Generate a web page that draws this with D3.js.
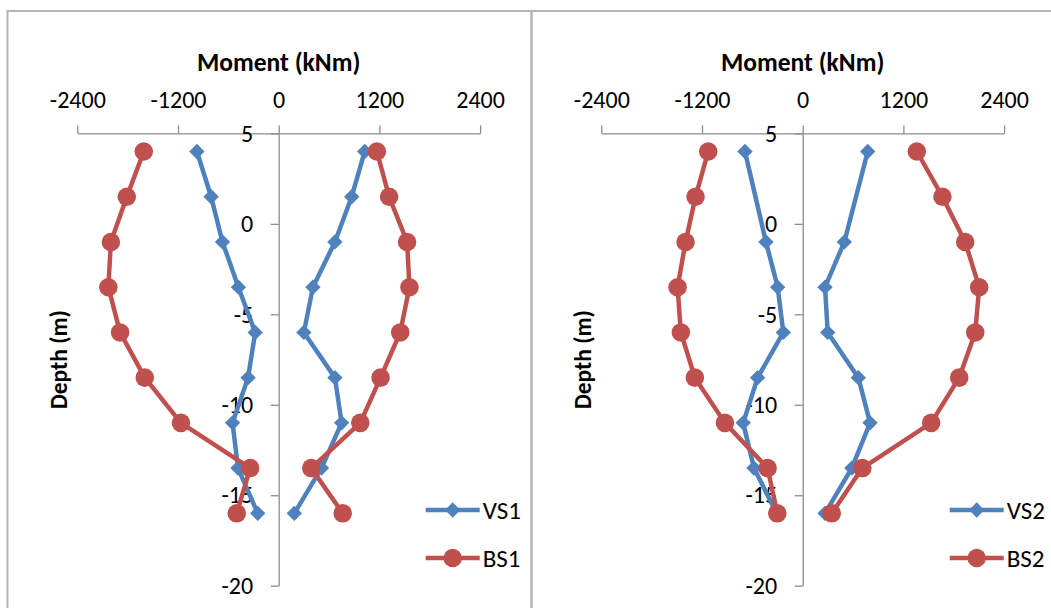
<!DOCTYPE html>
<html>
<head>
<meta charset="utf-8">
<script src="https://cdn.jsdelivr.net/npm/d3@7"></script>
<style>
  body { margin: 0; background: #fff; }
  svg { display: block; font-family: Calibri, Carlito, Lato, sans-serif; }
</style>
</head>
<body>
<div id="chart"></div>
<script>
// depth of each reading (m)
var depths = [4, 1.5, -1, -3.5, -6, -8.5, -11, -13.5, -16];
var depthsVS2 = [4, -1, -3.5, -6, -8.5, -11, -13.5, -16];

// moments (kNm), each series has a negative and a positive branch
var vs1Neg = [-975, -805, -670, -480, -280, -365, -550, -485, -250];
var vs1Pos = [1025, 870, 670, 408, 300, 670, 750, 510, 186];
var bs1Neg = [-1608, -1810, -2000, -2030, -1890, -1596, -1165, -340, -500];
var bs1Pos = [1170, 1316, 1530, 1558, 1448, 1214, 972, 388, 763];

var vs2Neg = [-688, -438, -298, -231, -537, -709, -581, -310];
var vs2Pos = [775, 496, 266, 298, 663, 803, 585, 266];
var bs2Neg = [-1126, -1277, -1396, -1491, -1452, -1285, -927, -418, -303];
var bs2Pos = [1360, 1665, 1936, 2103, 2056, 1865, 1531, 711, 346];

var momentTicks = [-2400, -1200, 0, 1200, 2400];
var depthTicks = [5, 0, -5, -10, -15, -20];

var blue = "#4f81bd", red = "#c0504d";

var panels = [
  { left: 7.5, vs: "VS1", bs: "BS1",
    series: [
      { depth: depths, value: vs1Neg, color: blue, shape: "diamond" },
      { depth: depths, value: vs1Pos, color: blue, shape: "diamond" },
      { depth: depths, value: bs1Neg, color: red, shape: "circle" },
      { depth: depths, value: bs1Pos, color: red, shape: "circle" }
    ] },
  { left: 531.5, vs: "VS2", bs: "BS2",
    series: [
      { depth: depthsVS2, value: vs2Neg, color: blue, shape: "diamond" },
      { depth: depthsVS2, value: vs2Pos, color: blue, shape: "diamond" },
      { depth: depths, value: bs2Neg, color: red, shape: "circle" },
      { depth: depths, value: bs2Pos, color: red, shape: "circle" }
    ] }
];

var svg = d3.select("#chart").append("svg")
  .attr("width", 1051)
  .attr("height", 608);

// chart borders
svg.append("rect")
  .attr("x", 7.5).attr("y", 11)
  .attr("width", 1100).attr("height", 700)
  .attr("fill", "none").attr("stroke", "#b4b4b4").attr("stroke-width", 2);
svg.append("line")
  .attr("x1", 531.5).attr("x2", 531.5).attr("y1", 11).attr("y2", 608)
  .attr("stroke", "#b4b4b4").attr("stroke-width", 2.5);

var diamond = d3.symbol().type(d3.symbolDiamond2).size(150);
var circle = d3.symbol().type(d3.symbolCircle).size(270);

panels.forEach(function (p) {
  var g = svg.append("g").attr("transform", "translate(" + p.left + ",0)");

  var x = d3.scaleLinear().domain([-2400, 2400]).range([69.8, 472.6]);
  var y = d3.scaleLinear().domain([5, -20]).range([133.4, 585.7]);

  // x axis on top
  var xAxis = g.append("g")
    .attr("transform", "translate(0," + y(5) + ")")
    .call(d3.axisTop(x).tickValues(momentTicks).tickSize(8).tickSizeOuter(0)
      .tickPadding(17).tickFormat(function (d) { return String(d); }));

  // y axis at zero moment
  var yAxis = g.append("g")
    .attr("transform", "translate(" + x(0) + ",0)")
    .call(d3.axisLeft(y).tickValues(depthTicks).tickSize(8).tickSizeOuter(0)
      .tickPadding(17.5).tickFormat(function (d) { return String(d); }));

  [xAxis, yAxis].forEach(function (a) {
    a.selectAll("path, line").attr("stroke", "#8c8c8c").attr("stroke-width", 1.3);
    a.selectAll("text").attr("fill", "#000").attr("font-size", 24)
      .attr("font-family", "Calibri, Carlito, Lato, sans-serif");
  });

  g.append("text")
    .attr("x", x(0)).attr("y", 71)
    .attr("text-anchor", "middle")
    .attr("font-size", 25.5).attr("font-weight", "bold")
    .text("Moment (kNm)");

  g.append("text")
    .attr("transform", "translate(" + (x(0) - 212) + "," + ((y(5) + y(-20)) / 2) + ") rotate(-90)")
    .attr("text-anchor", "middle")
    .attr("font-size", 23.5).attr("font-weight", "bold")
    .text("Depth (m)");

  var line = d3.line()
    .x(function (d) { return x(d[1]); })
    .y(function (d) { return y(d[0]); });

  // blue first, red on top
  p.series.forEach(function (s) {
    var pts = d3.zip(s.depth, s.value);
    g.append("path")
      .datum(pts)
      .attr("d", line)
      .attr("fill", "none")
      .attr("stroke", s.color)
      .attr("stroke-width", 4.5)
      .attr("stroke-linejoin", "round");
    g.selectAll(null)
      .data(pts)
      .enter().append("path")
      .attr("transform", function (d) { return "translate(" + x(d[1]) + "," + y(d[0]) + ")"; })
      .attr("d", s.shape == "diamond" ? diamond : circle)
      .attr("fill", s.color);
  });

  // legend
  var legend = [
    { name: p.vs, color: blue, shape: "diamond", y: 510 },
    { name: p.bs, color: red, shape: "circle", y: 558 }
  ];
  legend.forEach(function (l) {
    var lx = x(0) + 147;
    g.append("line")
      .attr("x1", lx).attr("x2", lx + 54)
      .attr("y1", l.y).attr("y2", l.y)
      .attr("stroke", l.color).attr("stroke-width", 4.5);
    g.append("path")
      .attr("transform", "translate(" + (lx + 27) + "," + l.y + ")")
      .attr("d", l.shape == "diamond" ? diamond : circle)
      .attr("fill", l.color);
    g.append("text")
      .attr("x", lx + 57).attr("y", l.y + 9)
      .attr("font-size", 25)
      .text(l.name);
  });
});
</script>
</body>
</html>
